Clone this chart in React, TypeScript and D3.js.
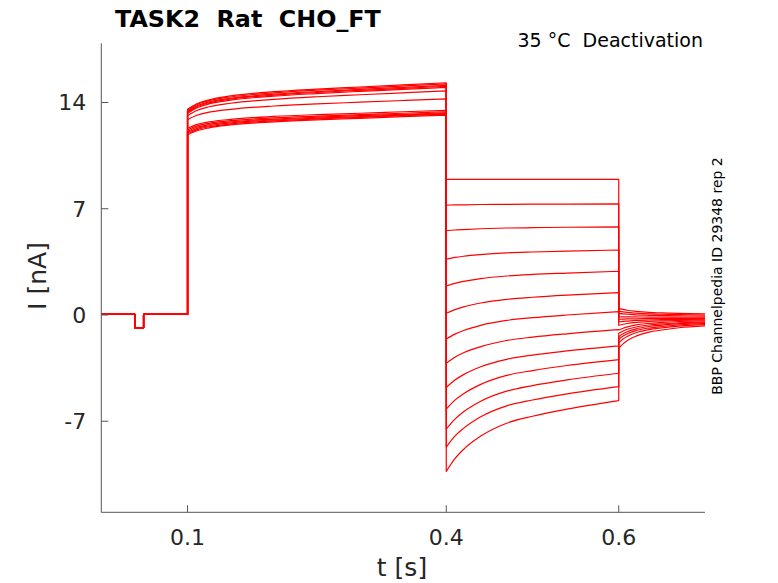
import * as d3 from "d3";
import { useRef, useEffect } from "react";

// Holding period with the short test pulse (shared by all sweeps)
const holdTimes = [0, 0.039, 0.039, 0.049, 0.049, 0.1];
const holdValues = [0.04, 0.04, -0.84, -0.84, 0.04, 0.04];

// Activation step, 0.1 - 0.4 s
const actTimes = [0.1, 0.11, 0.125, 0.15, 0.2, 0.25, 0.3, 0.35, 0.4];
const actValues = [
  [13.55, 13.9, 14.18, 14.43, 14.71, 14.88, 15.02, 15.16, 15.3],
  [13.49, 13.84, 14.12, 14.36, 14.64, 14.81, 14.95, 15.09, 15.23],
  [13.42, 13.76, 14.04, 14.28, 14.55, 14.72, 14.86, 15.0, 15.13],
  [13.36, 13.7, 13.98, 14.22, 14.49, 14.66, 14.8, 14.93, 15.07],
  [13.29, 13.63, 13.91, 14.15, 14.42, 14.59, 14.73, 14.86, 15.0],
  [13.13, 13.46, 13.72, 13.95, 14.21, 14.38, 14.51, 14.64, 14.77],
  [12.86, 13.14, 13.36, 13.55, 13.77, 13.91, 14.02, 14.13, 14.24],
  [12.3, 12.54, 12.72, 12.89, 13.08, 13.2, 13.29, 13.39, 13.48],
  [12.2, 12.44, 12.63, 12.8, 12.99, 13.1, 13.2, 13.29, 13.39],
  [12.11, 12.35, 12.55, 12.72, 12.91, 13.03, 13.13, 13.22, 13.32],
  [12.02, 12.27, 12.47, 12.65, 12.85, 12.97, 13.07, 13.17, 13.27],
  [11.94, 12.2, 12.4, 12.59, 12.79, 12.92, 13.02, 13.13, 13.23],
  [11.86, 12.12, 12.33, 12.52, 12.72, 12.86, 12.96, 13.07, 13.17],
];

// Deactivation steps, 0.4 - 0.6 s
const deactTimes = [0.4, 0.41, 0.42, 0.44, 0.47, 0.5, 0.54, 0.6];
const deactValues = [
  [8.93, 8.93, 8.93, 8.93, 8.93, 8.93, 8.93, 8.93],
  [7.24, 7.25, 7.26, 7.28, 7.29, 7.3, 7.31, 7.32],
  [5.55, 5.6, 5.63, 5.68, 5.73, 5.75, 5.78, 5.81],
  [3.68, 3.79, 3.87, 3.98, 4.09, 4.15, 4.21, 4.28],
  [1.91, 2.08, 2.21, 2.4, 2.57, 2.67, 2.76, 2.88],
  [0.11, 0.35, 0.53, 0.79, 1.03, 1.17, 1.31, 1.47],
  [-1.58, -1.26, -1.02, -0.68, -0.36, -0.18, 0.0, 0.22],
  [-3.18, -2.78, -2.49, -2.08, -1.68, -1.46, -1.24, -0.97],
  [-4.78, -4.29, -3.93, -3.41, -2.92, -2.64, -2.37, -2.04],
  [-6.2, -5.61, -5.19, -4.57, -3.98, -3.66, -3.33, -2.94],
  [-7.52, -6.86, -6.38, -5.68, -5.02, -4.65, -4.28, -3.84],
  [-8.7, -7.98, -7.47, -6.71, -5.99, -5.6, -5.2, -4.72],
  [-10.31, -9.47, -8.86, -7.98, -7.13, -6.67, -6.2, -5.64],
];

// Tail after return, 0.6 - 0.7 s
const tailTimes = [0.6, 0.605, 0.61, 0.62, 0.635, 0.65, 0.67, 0.7];
const tailValues = [
  [0.44, 0.37, 0.31, 0.24, 0.17, 0.14, 0.1, 0.07],
  [0.26, 0.21, 0.17, 0.12, 0.07, 0.05, 0.02, 0.0],
  [0.11, 0.07, 0.05, 0.01, -0.02, -0.04, -0.06, -0.07],
  [-0.11, -0.12, -0.12, -0.13, -0.14, -0.14, -0.15, -0.15],
  [-0.28, -0.27, -0.26, -0.25, -0.24, -0.23, -0.22, -0.22],
  [-0.46, -0.42, -0.4, -0.36, -0.33, -0.31, -0.29, -0.28],
  [-0.68, -0.61, -0.56, -0.49, -0.43, -0.39, -0.36, -0.33],
  [-0.99, -0.87, -0.78, -0.65, -0.55, -0.49, -0.43, -0.38],
  [-1.2, -1.05, -0.94, -0.79, -0.66, -0.59, -0.51, -0.45],
  [-1.43, -1.24, -1.1, -0.92, -0.76, -0.67, -0.57, -0.5],
  [-1.6, -1.39, -1.24, -1.03, -0.86, -0.76, -0.65, -0.57],
  [-1.82, -1.58, -1.41, -1.17, -0.97, -0.85, -0.73, -0.64],
  [-2.2, -1.9, -1.68, -1.39, -1.13, -0.99, -0.84, -0.72],
];

const xTicks = [0.1, 0.4, 0.6];
const yTicks = [-7, 0, 7, 14];

const FONT = "'DejaVu Sans', sans-serif";
const TEXT = "#262626";
const AXIS = "#555555";

export default function App() {
  const svgRef = useRef<SVGSVGElement>(null);

  useEffect(() => {
    if (!svgRef.current) return;
    const svg = d3.select(svgRef.current);
    svg.selectAll("*").remove();

    const x = d3.scaleLinear().domain([0, 0.7]).range([101.3, 705]);
    const y = d3.scaleLinear().domain([-13, 17.9]).range([512.3, 43.3]);

    const straight = d3
      .line<[number, number]>()
      .x((d) => x(d[0]))
      .y((d) => y(d[1]));
    const smooth = d3
      .line<[number, number]>()
      .x((d) => x(d[0]))
      .y((d) => y(d[1]))
      .curve(d3.curveMonotoneX);

    const zip = (ts: number[], vs: number[]) =>
      ts.map((t, k) => [t, vs[k]] as [number, number]);

    // one path per sweep, segments joined so the steps are vertical lines
    const traces = actValues.map((_, i) => {
      const parts = [
        straight(zip(holdTimes, holdValues)) as string,
        smooth(zip(actTimes, actValues[i])) as string,
        smooth(zip(deactTimes, deactValues[i])) as string,
        smooth(zip(tailTimes, tailValues[i])) as string,
      ];
      return parts.map((p, k) => (k ? p.replace(/^M/, "L") : p)).join("");
    });

    svg
      .append("g")
      .selectAll("path")
      .data(traces)
      .join("path")
      .attr("d", (d) => d)
      .attr("fill", "none")
      .attr("stroke", "#ff0000")
      .attr("stroke-width", 1.2)
      .attr("stroke-linejoin", "round");

    // axes: left and bottom only, ticks pointing inwards
    const gx = svg.append("g").attr("transform", `translate(0,${y(-13)})`);
    gx.append("line")
      .attr("x1", x(0))
      .attr("x2", x(0.7))
      .attr("stroke", AXIS);
    gx.selectAll("line.tick")
      .data(xTicks)
      .join("line")
      .attr("class", "tick")
      .attr("x1", (d) => x(d))
      .attr("x2", (d) => x(d))
      .attr("y1", 0)
      .attr("y2", -7)
      .attr("stroke", AXIS);
    gx.selectAll("text")
      .data(xTicks)
      .join("text")
      .attr("x", (d) => x(d))
      .attr("y", 33)
      .attr("text-anchor", "middle")
      .attr("font-family", FONT)
      .attr("font-size", 22)
      .attr("fill", TEXT)
      .text((d) => d3.format(".1f")(d));

    const gy = svg.append("g").attr("transform", `translate(${x(0)},0)`);
    gy.append("line")
      .attr("y1", y(17.9))
      .attr("y2", y(-13))
      .attr("stroke", AXIS);
    gy.selectAll("line.tick")
      .data(yTicks)
      .join("line")
      .attr("class", "tick")
      .attr("y1", (d) => y(d))
      .attr("y2", (d) => y(d))
      .attr("x1", 0)
      .attr("x2", 7)
      .attr("stroke", AXIS);
    gy.selectAll("text")
      .data(yTicks)
      .join("text")
      .attr("x", -15)
      .attr("y", (d) => y(d))
      .attr("dy", "0.36em")
      .attr("text-anchor", "end")
      .attr("font-family", FONT)
      .attr("font-size", 22)
      .attr("fill", TEXT)
      .text((d) => String(d));

    // labels
    svg
      .append("text")
      .attr("x", 402)
      .attr("y", 576)
      .attr("text-anchor", "middle")
      .attr("font-family", FONT)
      .attr("font-size", 25)
      .attr("fill", TEXT)
      .text("t [s]");
    svg
      .append("text")
      .attr("transform", "translate(46,276) rotate(-90)")
      .attr("text-anchor", "middle")
      .attr("font-family", FONT)
      .attr("font-size", 25)
      .attr("fill", TEXT)
      .text("I [nA]");
    svg
      .append("text")
      .attr("x", 115)
      .attr("y", 27)
      .attr("font-family", FONT)
      .attr("font-weight", "bold")
      .attr("font-size", 23.8)
      .attr("fill", "#000")
      .style("white-space", "pre")
      .text("TASK2  Rat  CHO_FT");
    svg
      .append("text")
      .attr("x", 703)
      .attr("y", 47)
      .attr("text-anchor", "end")
      .attr("font-family", FONT)
      .attr("font-size", 19)
      .attr("fill", "#000")
      .style("white-space", "pre")
      .text("35 °C  Deactivation");
    svg
      .append("text")
      .attr("transform", "translate(722,276) rotate(-90)")
      .attr("text-anchor", "middle")
      .attr("font-family", FONT)
      .attr("font-size", 14)
      .attr("fill", "#000")
      .text("BBP Channelpedia ID 29348 rep 2");
  }, []);

  return (
    <svg
      ref={svgRef}
      width={778}
      height={583}
      style={{ position: "absolute", left: 0, top: 0, background: "#fff" }}
    />
  );
}
